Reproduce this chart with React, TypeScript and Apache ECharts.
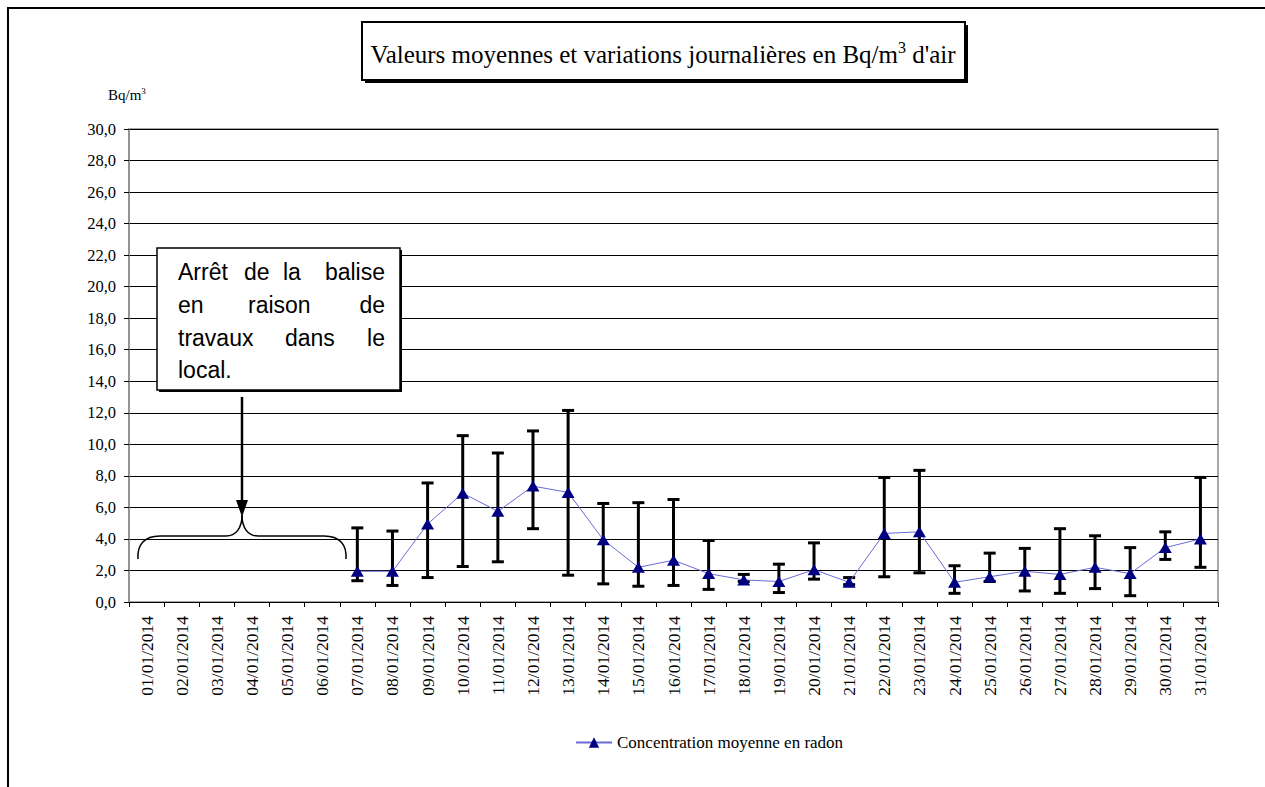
import React, { useEffect, useRef } from "react";
import * as echarts from "echarts";

const categories = [
  "01/01/2014","02/01/2014","03/01/2014","04/01/2014","05/01/2014","06/01/2014","07/01/2014",
  "08/01/2014","09/01/2014","10/01/2014","11/01/2014","12/01/2014","13/01/2014","14/01/2014",
  "15/01/2014","16/01/2014","17/01/2014","18/01/2014","19/01/2014","20/01/2014","21/01/2014",
  "22/01/2014","23/01/2014","24/01/2014","25/01/2014","26/01/2014","27/01/2014","28/01/2014",
  "29/01/2014","30/01/2014","31/01/2014",
];

const meanValues: (number | null)[] = [
  null, null, null, null, null, null,
  1.95, 1.95, 4.95, 6.9, 5.75, 7.35, 6.95, 3.95, 2.2, 2.65, 1.8, 1.4, 1.3, 2.05, 1.25,
  4.35, 4.45, 1.25, 1.6, 1.95, 1.75, 2.2, 1.8, 3.45, 4.0,
];

const highValues: (number | null)[] = [
  null, null, null, null, null, null,
  4.7, 4.5, 7.55, 10.55, 9.45, 10.85, 12.15, 6.25, 6.3, 6.5, 3.9, 1.75, 2.4, 3.75, 1.55,
  7.9, 8.35, 2.3, 3.1, 3.4, 4.65, 4.2, 3.45, 4.45, 7.9,
];

const lowValues: (number | null)[] = [
  null, null, null, null, null, null,
  1.35, 1.05, 1.55, 2.25, 2.55, 4.65, 1.7, 1.15, 1.0, 1.05, 0.8, 1.3, 0.6, 1.45, 1.1,
  1.6, 1.85, 0.55, 1.3, 0.7, 0.55, 0.85, 0.4, 2.7, 2.2,
];

const seriesName = "Concentration moyenne en radon";
const titleText = "Valeurs moyennes et variations journalières en Bq/m";
const unitText = "Bq/m";
const noteLines = [
  ["Arrêt", "de", "la", "balise"],
  ["en", "raison", "de"],
  ["travaux", "dans", "le"],
  ["local."],
];
const noteWordX = [
  [178, 244, 283, 385],
  [178, 248, 385],
  [178, 285, 385],
  [178],
];

const SERIF = "Times New Roman";
const SANS = "Liberation Sans";

export default function App() {
  const ref = useRef<HTMLDivElement>(null);

  useEffect(() => {
    if (!ref.current) return;
    const chart = echarts.init(ref.current, undefined, { renderer: "svg" });

    const errData = categories
      .map((_, i) => (highValues[i] == null ? null : [i, lowValues[i], highValues[i]]))
      .filter((d) => d !== null);

    const lineY = [272, 305, 338, 370];
    const noteTexts: any[] = [];
    noteLines.forEach((words, li) => {
      const n = words.length;
      words.forEach((w, wi) => {
        const isLast = n > 1 && wi === n - 1;
        noteTexts.push({
          type: "text", x: noteWordX[li][wi], y: lineY[li], z: 102,
          style: {
            text: w, fontFamily: SANS, fontSize: 23, fill: "#000",
            align: isLast ? "right" : "left", verticalAlign: "middle",
          },
        });
      });
    });

    const bz = (s: any) => ({ type: "bezierCurve", shape: s, style: { stroke: "#000", lineWidth: 1.5, fill: "none" }, z: 100 });

    const option: any = {
      animation: false,
      backgroundColor: "#fff",
      grid: { left: 129, top: 129, right: 47, bottom: 185, show: true, borderColor: "#8c8c8c", borderWidth: 1.5, backgroundColor: "transparent" },
      legend: {
        left: 575, top: 734, padding: 0, itemWidth: 36, itemHeight: 13, itemGap: 6,
        data: [seriesName],
        textStyle: { fontFamily: SERIF, fontSize: 17, color: "#000" },
      },
      xAxis: {
        type: "category",
        data: categories,
        boundaryGap: true,
        axisLine: { show: true, lineStyle: { color: "#000", width: 1 } },
        axisTick: { show: true, length: 5, lineStyle: { color: "#000" } },
        axisLabel: { rotate: 90, interval: 0, margin: 14, fontFamily: SERIF, fontSize: 17.5, color: "#000" },
        splitLine: { show: false },
      },
      yAxis: {
        type: "value",
        min: 0, max: 30, interval: 2,
        axisLine: { show: true, lineStyle: { color: "#8c8c8c", width: 1.5 } },
        axisTick: { show: true, length: 5, lineStyle: { color: "#000" } },
        axisLabel: {
          margin: 13, fontFamily: SERIF, fontSize: 16.5, color: "#000",
          formatter: (v: number) => v.toFixed(1).replace(".", ","),
        },
        splitLine: { show: true, lineStyle: { color: "#000", width: 1 } },
      },
      series: [
        {
          type: "custom",
          name: "err",
          z: 2,
          data: errData,
          encode: { x: 0, y: [1, 2] },
          renderItem: (params: any, api: any) => {
            const idx = api.value(0);
            const lo = api.coord([idx, api.value(1)]);
            const hi = api.coord([idx, api.value(2)]);
            const hw = 6;
            const st = { stroke: "#000", lineWidth: 3 };
            return {
              type: "group",
              children: [
                { type: "line", shape: { x1: hi[0], y1: hi[1], x2: lo[0], y2: lo[1] }, style: st },
                { type: "line", shape: { x1: hi[0] - hw, y1: hi[1], x2: hi[0] + hw, y2: hi[1] }, style: st },
                { type: "line", shape: { x1: lo[0] - hw, y1: lo[1], x2: lo[0] + hw, y2: lo[1] }, style: st },
              ],
            };
          },
        },
        {
          type: "line",
          name: seriesName,
          z: 5,
          data: meanValues,
          symbol: "triangle",
          symbolSize: [13, 11],
          itemStyle: { color: "#000080" },
          lineStyle: { color: "#6b6bd6", width: 1 },
          connectNulls: false,
        },
      ],
      graphic: [
        { type: "rect", shape: { x: 8, y: 8, width: 1270, height: 800 }, style: { fill: "none", stroke: "#000", lineWidth: 2 }, z: 100 },
        { type: "rect", shape: { x: 365, y: 25, width: 603, height: 58 }, style: { fill: "#000" }, z: 100 },
        { type: "rect", shape: { x: 362, y: 22, width: 603, height: 58 }, style: { fill: "#fff", stroke: "#000", lineWidth: 2 }, z: 101 },
        {
          type: "text", x: 663, y: 54, z: 102,
          style: {
            text: `{n|${titleText}}{s|3}{n| d'air}`,
            align: "center", verticalAlign: "middle",
            rich: {
              n: { fontFamily: SERIF, fontSize: 25, color: "#000", lineHeight: 30 },
              s: { fontFamily: SERIF, fontSize: 16, color: "#000", verticalAlign: "top", lineHeight: 30, padding: [0, 0, 12, 0] },
            },
          },
        },
        {
          type: "text", x: 108, y: 95, z: 102,
          style: {
            text: `{n|${unitText}}{s|3}`,
            align: "left", verticalAlign: "middle",
            rich: {
              n: { fontFamily: SERIF, fontSize: 15, color: "#000", lineHeight: 18 },
              s: { fontFamily: SERIF, fontSize: 9, color: "#000", verticalAlign: "top", lineHeight: 18, padding: [0, 0, 7, 0] },
            },
          },
        },
        { type: "rect", shape: { x: 159, y: 250, width: 243, height: 142 }, style: { fill: "#000" }, z: 100 },
        { type: "rect", shape: { x: 157, y: 248, width: 243, height: 142 }, style: { fill: "#fff", stroke: "#000", lineWidth: 1.5 }, z: 101 },
        ...noteTexts,
        { type: "line", shape: { x1: 242, y1: 397, x2: 242, y2: 503 }, style: { stroke: "#000", lineWidth: 2.5 }, z: 100 },
        { type: "polygon", shape: { points: [[236, 500], [248, 500], [242, 517]] }, style: { fill: "#000" }, z: 100 },
        bz({ x1: 138, y1: 559, cpx1: 137, cpy1: 545, cpx2: 144, cpy2: 536, x2: 160, y2: 536 }),
        { type: "line", shape: { x1: 160, y1: 536, x2: 226, y2: 536 }, style: { stroke: "#000", lineWidth: 1.5 }, z: 100 },
        bz({ x1: 226, y1: 536, cpx1: 236, cpy1: 536, cpx2: 242, cpy2: 528, x2: 242, y2: 515 }),
        bz({ x1: 242, y1: 515, cpx1: 242, cpy1: 528, cpx2: 248, cpy2: 536, x2: 258, y2: 536 }),
        { type: "line", shape: { x1: 258, y1: 536, x2: 324, y2: 536 }, style: { stroke: "#000", lineWidth: 1.5 }, z: 100 },
        bz({ x1: 324, y1: 536, cpx1: 340, cpy1: 536, cpx2: 347, cpy2: 545, x2: 346, y2: 559 }),
      ],
    };

    chart.setOption(option);
    return () => chart.dispose();
  }, []);

  return (
    <div
      ref={ref}
      style={{ position: "absolute", left: 0, top: 0, width: 1265, height: 787, background: "#fff" }}
    />
  );
}
